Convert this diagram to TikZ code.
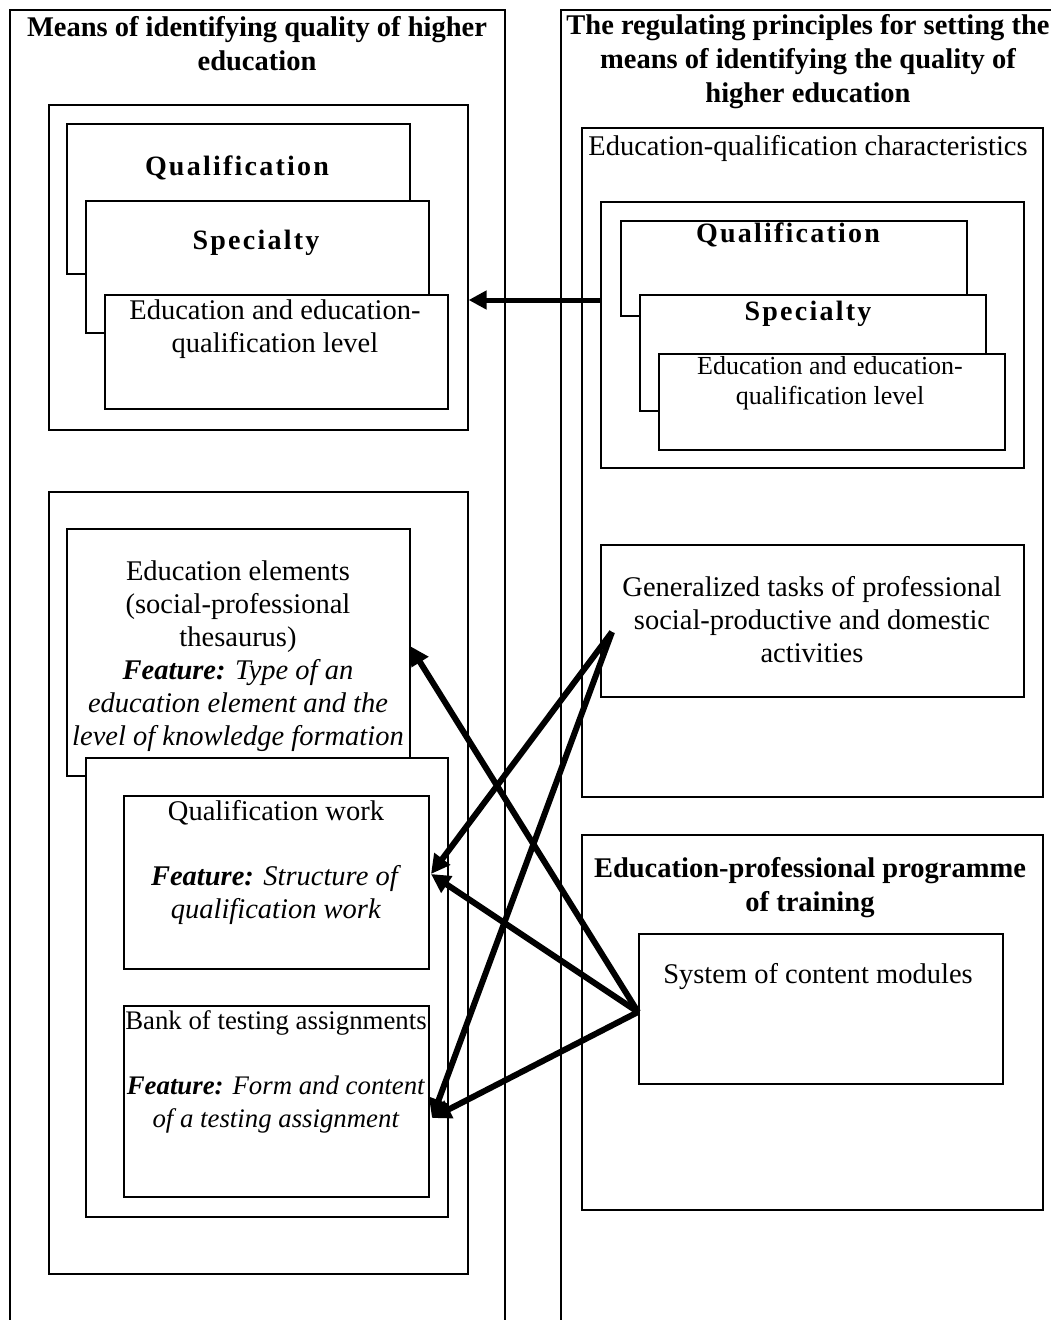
\documentclass[tikz,border=0pt]{standalone}
\usepackage{fontspec}
\setmainfont{Liberation Serif}
\newfontfamily\spaced[LetterSpace=8]{Liberation Serif}
\usetikzlibrary{arrows.meta,calc}
\begin{document}
\begin{tikzpicture}[x=1pt,y=-1pt,
  box/.style={draw, line width=1.6pt, fill=white, anchor=north west, inner sep=0pt},
  txt/.style={align=center, inner sep=0pt, font=\fontsize{28.5}{33}\selectfont},
  ttl/.style={txt, font=\fontsize{28.5}{34}\selectfont\bfseries},
  wide/.style={txt, font=\fontsize{28}{33}\selectfont\spaced\bfseries},
  small/.style={txt, font=\fontsize{26}{30}\selectfont},
  tight/.style={txt, font=\fontsize{26.8}{33}\selectfont},
  link/.style={line width=6pt, -{Triangle[length=19pt,width=19pt]}},
  frame/.style={line width=1.6pt}
]
\useasboundingbox (0,0) rectangle (1051,1320);
\fill[white] (0,0) rectangle (1051,1320);

% two main columns, open at the bottom
\draw[frame] (10,1325) -- (10,10) -- (505,10) -- (505,1325);
\draw[frame] (561,1325) -- (561,10) -- (1060,10);
\node[ttl] (ltitle) at (257,44) {Means of identifying quality of higher\\education};
\node[ttl] (rtitle) at (808,62) {The regulating principles for setting the\\means of identifying the quality of\\higher education};

% left column: upper group of stacked cards
\node[box, minimum width=419pt, minimum height=325pt] (lg1) at (48,104) {};
\node[box, minimum width=343pt, minimum height=150pt] (lq) at (66,123) {};
\node[box, minimum width=343pt, minimum height=132pt] (ls) at (85,200) {};
\node[box, minimum width=343pt, minimum height=114pt] (le) at (104,294) {};
\node[wide] (lqt) at (237,168) {Qualification};
\node[wide] (lst) at (256,243) {Specialty};
\node[txt] (let) at (275,329) {Education and education-\\qualification level};

% right column: education-qualification characteristics
\node[box, minimum width=461pt, minimum height=669pt] (eqc) at (581,127) {};
\node[txt] (eqct) at (808,148) {Education-qualification characteristics};
\node[box, minimum width=423pt, minimum height=266pt] (rg1) at (600,201) {};
\node[box, minimum width=346pt, minimum height=95pt] (rq) at (620,220) {};
\node[box, minimum width=346pt, minimum height=116pt] (rs) at (639,294) {};
\node[box, minimum width=346pt, minimum height=96pt] (re) at (658,353) {};
\node[wide] (rqt) at (788,235) {Qualification};
\node[wide] (rst) at (808,314) {Specialty};
\node[small] (ret) at (830,383) {Education and education-\\qualification level};
\node[box, minimum width=423pt, minimum height=152pt] (gen) at (600,544) {};
\node[txt] (gent) at (812,620) {Generalized tasks of professional\\social-productive and domestic\\activities};

% right column: education-professional programme
\node[box, minimum width=461pt, minimum height=375pt] (epp) at (581,834) {};
\node[ttl] (eppt) at (810,888) {Education-professional programme\\of training};
\node[box, minimum width=364pt, minimum height=150pt] (sys) at (638,933) {};
\node[txt] (syst) at (818,977) {System of content modules};

% left column: lower group
\node[box, minimum width=419pt, minimum height=782pt] (lg2) at (48,491) {};
\node[box, minimum width=343pt, minimum height=247pt] (ee) at (66,528) {};
\node[txt] (eet) at (238,656) {Education elements\\(social-professional\\thesaurus)\\\textbf{\textit{Feature:}} \textit{Type of an}\\\textit{education element and the}\\\textit{level of knowledge formation}};
\node[box, minimum width=362pt, minimum height=459pt] (lg3) at (85,757) {};
\node[box, minimum width=305pt, minimum height=173pt] (qw) at (123,795) {};
\node[txt] (qwt) at (276,813) {Qualification work};
\node[txt] (qwf) at (276,895) {\textbf{\textit{Feature:}} \textit{Structure of}\\\textit{qualification work}};
\node[box, minimum width=305pt, minimum height=191pt] (bank) at (123,1005) {};
\node[tight] (bankt) at (276,1023) {Bank of testing assignments};
\node[tight] (bankf) at (276,1105) {\textbf{\textit{Feature:}} \textit{Form and content}\\\textit{of a testing assignment}};

% connectors
\coordinate (g0) at (612,632);
\coordinate (s0) at (638,1012);
\coordinate (eein) at (410,646);
\coordinate (qwin) at (431,874);
\coordinate (bankin) at (432,1118);
\draw[line width=5pt, -{Triangle[length=18pt,width=18pt]}] (rg1.west |- 0,300) -- (lg1.east |- 0,300);
\draw[link] (g0) -- (qwin);
\draw[link] (g0) -- (bankin);
\draw[link] (s0) -- (eein);
\draw[link] (s0) -- (qwin);
\draw[link] (s0) -- (bankin);
\end{tikzpicture}
\end{document}
